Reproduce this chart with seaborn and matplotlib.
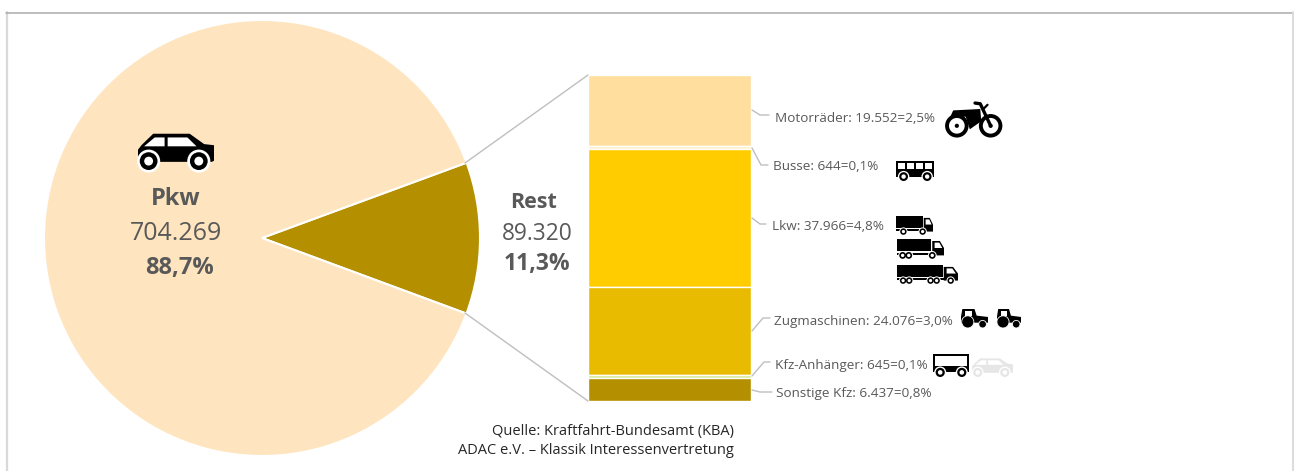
import matplotlib
matplotlib.use("Agg")
import matplotlib.pyplot as plt
from matplotlib.patches import Circle, Polygon, Rectangle
import seaborn as sns

# 1. Data
pie_labels = ["Rest", "Pkw"]
pie_values = [89320, 704269]
pie_colors = ["#B48F00", "#FEE5BF"]

stack_names = ["Motorräder", "Busse", "Lkw", "Zugmaschinen", "Kfz-Anhänger", "Sonstige Kfz"]
stack_values = [19552, 644, 37966, 24076, 645, 6437]
stack_colors = ["#FFDE9E", "#FFEFC4", "#FFCC00", "#E9BB00", "#D5E58A", "#B48F00"]
stack_texts = ["Motorräder: 19.552=2,5%", "Busse: 644=0,1%", "Lkw: 37.966=4,8%",
               "Zugmaschinen: 24.076=3,0%", "Kfz-Anhänger: 645=0,1%", "Sonstige Kfz: 6.437=0,8%"]
source_lines = ["Quelle: Kraftfahrt-Bundesamt (KBA)", "ADAC e.V. – Klassik Interessenvertretung"]

W, H = 1298, 471
TEXT = "#595959"
LINE = "#BFBFBF"

sns.set_theme(style="white")
plt.rcParams["font.family"] = ["Open Sans", "DejaVu Sans"]


def px_axes(fig, left, top, right, bottom):
    return fig.add_axes([left / W, 1 - bottom / H, (right - left) / W, (bottom - top) / H])


fig = plt.figure(figsize=(W / 100, H / 100), dpi=100, facecolor="white")

# 2. Pie
ax_pie = px_axes(fig, 44, 20, 480, 456)
ax_pie.pie(pie_values, colors=pie_colors, startangle=-20.3, counterclock=True,
           wedgeprops={"edgecolor": "white", "linewidth": 1.5})
ax_pie.set_xlim(-1, 1)
ax_pie.set_ylim(-1, 1)

# 3. Stacked column, top to bottom
ax_bar = px_axes(fig, 588, 75, 751, 401)
bottom = 0
for value, color in zip(stack_values, stack_colors):
    sns.barplot(x=[0], y=[value], bottom=bottom, color=color, saturation=1, width=1,
                edgecolor="white", linewidth=1.0, ax=ax_bar)
    bottom += value
ax_bar.set_xlim(-0.5, 0.5)
ax_bar.set_ylim(sum(stack_values), 0)
ax_bar.axis("off")

# 4. Overlay in pixel coordinates for text, leaders and icons
ov = fig.add_axes([0, 0, 1, 1], facecolor="none")
ov.set_xlim(0, W)
ov.set_ylim(H, 0)
ov.axis("off")

# frame, open at the bottom
ov.plot([6.5, 6.5], [12, H], color="#D9D9D9", lw=1.6)
ov.plot([6, 1292], [12.5, 12.5], color="#ABABAB", lw=1.1)
ov.plot([1292.5, 1292.5], [12, H], color="#D9D9D9", lw=1.3)

# connectors pie -> column
ov.plot([465, 588], [163, 75], color=LINE, lw=1)
ov.plot([465, 588], [313, 401], color=LINE, lw=1)

ov.text(176, 199, pie_labels[1], ha="center", va="center", fontsize=17, fontweight="bold", color=TEXT)
ov.text(176, 234, "704.269", ha="center", va="center", fontsize=18, color=TEXT)
ov.text(180, 268, "88,7%", ha="center", va="center", fontsize=17, fontweight="bold", color=TEXT)
ov.text(534, 202, pie_labels[0], ha="center", va="center", fontsize=15.5, fontweight="bold", color=TEXT)
ov.text(537, 234, "89.320", ha="center", va="center", fontsize=16.4, color=TEXT)
ov.text(537, 264, "11,3%", ha="center", va="center", fontsize=16.5, fontweight="bold", color=TEXT)

label_pos = [(775, 118), (773, 167), (772, 226), (774, 322), (775, 365), (776, 394)]
leaders = [[(752, 110), (760, 115), (769, 115)],
           [(752, 148), (761, 165), (768, 165)],
           [(752, 218), (760, 224), (766, 224)],
           [(752, 331), (763, 318), (770, 318)],
           [(752, 376), (764, 362), (770, 362)],
           [(752, 390), (760, 392), (772, 392)]]
for text, (tx, ty), pts in zip(stack_texts, label_pos, leaders):
    ov.text(tx, ty, text, ha="left", va="center", fontsize=9.7, color=TEXT)
    ov.plot([p[0] for p in pts], [p[1] for p in pts], color=LINE, lw=1)

ov.text(734, 431, source_lines[0], ha="right", va="center", fontsize=10.5, color="#262626")
ov.text(734, 450, source_lines[1], ha="right", va="center", fontsize=10.5, color="#262626")


# 5. Vehicle icons
def wheel(x, y, r, color="black"):
    ov.add_patch(Circle((x, y), r * 1.3, fc="white", ec="none", zorder=3))
    ov.add_patch(Circle((x, y), r, fc=color, ec="none", zorder=4))
    ov.add_patch(Circle((x, y), r * 0.5, fc="white", ec="none", zorder=5))


def car(x0, y0, x1, y1, color="black"):
    w, h = x1 - x0, y1 - y0
    def p(u, v):
        return (x0 + u * w, y0 + v * h)
    ov.add_patch(Polygon([p(0, .45), p(.05, .32), p(.2, .02), p(.68, .02), p(.87, .3), p(1, .33),
                          p(1, .75), p(.97, .78), p(0, .78)], fc=color, ec="none", zorder=2))
    ov.add_patch(Polygon([p(.08, .36), p(.22, .12), p(.35, .12), p(.35, .36)], fc="white", ec="none", zorder=3))
    ov.add_patch(Polygon([p(.39, .12), p(.65, .12), p(.77, .36), p(.39, .36)], fc="white", ec="none", zorder=3))
    wheel(x0 + .14 * w, y0 + .76 * h, .24 * h, color)
    wheel(x0 + .8 * w, y0 + .76 * h, .24 * h, color)


def bus(x0, y0, x1, y1):
    w, h = x1 - x0, y1 - y0
    ov.add_patch(Rectangle((x0, y0), w, h * .78, fc="black", ec="none", zorder=2))
    for i in range(4):
        ov.add_patch(Rectangle((x0 + (.04 + .24 * i) * w, y0 + .1 * h), .2 * w, .3 * h, fc="white", ec="none", zorder=3))
    wheel(x0 + .2 * w, y0 + .78 * h, .22 * h)
    wheel(x0 + .82 * w, y0 + .78 * h, .22 * h)


def truck(x0, y0, x1, y1, wheels):
    w, h = x1 - x0, y1 - y0
    cab = min(h * .75, w * .25)
    ov.add_patch(Rectangle((x0, y0), w - cab - 1, h * .62, fc="black", ec="none", zorder=2))
    ov.add_patch(Polygon([(x1 - cab, y0 + .1 * h), (x1 - .35 * cab, y0 + .1 * h), (x1, y0 + .45 * h),
                          (x1, y0 + .82 * h), (x1 - cab, y0 + .82 * h)], fc="black", ec="none", zorder=2))
    ov.add_patch(Polygon([(x1 - .8 * cab, y0 + .18 * h), (x1 - .4 * cab, y0 + .18 * h),
                          (x1 - .15 * cab, y0 + .45 * h), (x1 - .8 * cab, y0 + .45 * h)], fc="white", ec="none", zorder=3))
    ov.add_patch(Rectangle((x0, y0 + .68 * h), w, .12 * h, fc="black", ec="none", zorder=2))
    for u in wheels:
        wheel(x0 + u * w, y0 + .82 * h, .17 * h)


def tractor(x0, y0, x1, y1):
    w, h = x1 - x0, y1 - y0
    ov.add_patch(Polygon([(x0 + .05 * w, y0), (x0 + .5 * w, y0), (x0 + .58 * w, y0 + .35 * h), (x1, y0 + .42 * h),
                          (x1, y0 + .72 * h), (x0, y0 + .72 * h), (x0, y0 + .4 * h)], fc="black", ec="none", zorder=2))
    ov.add_patch(Rectangle((x0 + .15 * w, y0 + .1 * h), .25 * w, .25 * h, fc="white", ec="none", zorder=3))
    ov.add_patch(Circle((x0 + .25 * w, y0 + .68 * h), .32 * h, fc="black", ec="white", lw=.6, zorder=4))
    ov.add_patch(Circle((x0 + .8 * w, y0 + .8 * h), .2 * h, fc="black", ec="white", lw=.6, zorder=4))


def trailer(x0, y0, x1, y1):
    w, h = x1 - x0, y1 - y0
    ov.add_patch(Rectangle((x0, y0), w, .78 * h, fc="black", ec="none", zorder=2))
    ov.add_patch(Rectangle((x0 + .05 * w, y0 + .1 * h), .9 * w, .4 * h, fc="white", ec="none", zorder=3))
    wheel(x0 + .2 * w, y0 + .8 * h, .2 * h)
    wheel(x0 + .8 * w, y0 + .8 * h, .2 * h)


def bike(x0, y0, x1, y1):
    w, h = x1 - x0, y1 - y0
    ax_wheels = [(.17, .68), (.82, .68)]
    for u, v in ax_wheels:
        ov.add_patch(Circle((x0 + u * w, y0 + v * h), .28 * h, fc="white", ec="black", lw=2.8, zorder=3))
        ov.add_patch(Circle((x0 + u * w, y0 + v * h), .06 * h, fc="black", ec="none", zorder=5))
    ov.add_patch(Polygon([(x0 + .02 * w, y0 + .5 * h), (x0 + .1 * w, y0 + .24 * h), (x0 + .62 * w, y0 + .2 * h),
                          (x0 + .64 * w, y0 + .55 * h), (x0 + .42 * w, y0 + .78 * h), (x0 + .34 * w, y0 + .42 * h),
                          (x0 + .14 * w, y0 + .42 * h)], fc="black", ec="none", zorder=4))
    ov.plot([x0 + .52 * w, x0 + .62 * w, x0 + .82 * w], [y0 + .03 * h, y0 + .05 * h, y0 + .68 * h],
            color="black", lw=2.4, zorder=4)
    ov.plot([x0 + .68 * w, x0 + .76 * w], [y0 + .2 * h, y0 + .08 * h], color="black", lw=1.6, zorder=4)


car(138, 133, 214, 170)
bike(948, 102, 1000, 137)
bus(896, 161, 934, 181)
truck(896, 216, 933, 235, [.2, .72])
truck(897, 239, 944, 259, [.12, .25, .75])
truck(897, 265, 958, 284, [.1, .2, .55, .65, .88])
tractor(961, 309, 988, 328)
tractor(997, 309, 1021, 328)
trailer(933, 354, 969, 377)
car(972, 358, 1013, 377, color="#E6E6E6")

plt.savefig("out.png", dpi=100)
